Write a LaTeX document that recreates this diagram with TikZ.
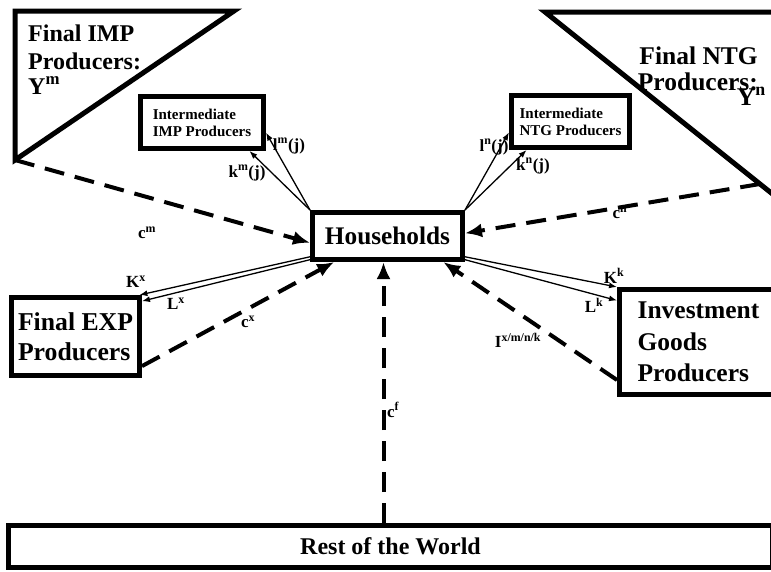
\documentclass[tikz,border=0pt]{standalone}
\usepackage{fontspec}
\setmainfont{Liberation Serif}
\usepackage{tikz}
\usetikzlibrary{arrows.meta,positioning}

\begin{document}
\begin{tikzpicture}[
    x=1pt, y=-1pt,
    every node/.style={inner sep=0pt},
    bigbox/.style={rectangle, draw, line width=5pt, align=left, font=\fontsize{25.5}{31.5}\selectfont\bfseries},
    interbox/.style={rectangle, draw, line width=5pt, align=left, minimum width=123pt, minimum height=52pt, font=\fontsize{15}{17}\selectfont\bfseries},
    tri/.style={line width=5pt},
    lab/.style={font=\fontsize{17}{17}\selectfont\bfseries},
    arrow/.style={line width=1.3pt, -{Latex[length=8pt,width=6pt]}},
    flow/.style={line width=4pt, dash pattern=on 20pt off 11pt, -{Latex[length=17pt,width=14pt]}}
]
\useasboundingbox (0,0) rectangle (771,571);
\clip (0,0) rectangle (771,571);

% Top left - final IMP producers
\draw[tri] (15,11) -- (234,11) -- (15,160) coordinate (imp_corner) -- cycle;
\node[anchor=base west, align=left, font=\fontsize{24}{28}\selectfont\bfseries] (imp_name) at (28,94) {Final IMP\\Producers:\\[-3pt]Y\textsuperscript{m}};
\node[interbox] (imp_inter) at (202,122.5) {Intermediate\\IMP Producers};

% Top right - final NTG producers
\draw[tri] (545,12) -- (785,12) -- (785,204) -- cycle;
\coordinate (ntg_corner) at (760,184);
\node[anchor=base east, align=right, font=\fontsize{25.5}{26}\selectfont\bfseries] (ntg_name) at (758,105) {Final NTG\\Producers:\\[-11pt]Y\textsuperscript{n}\hspace*{-8pt}};
\node[interbox, minimum width=118pt] (ntg_inter) at (570.5,121.5) {Intermediate\\NTG Producers};

% Middle - households and the other producers
\node[bigbox, minimum width=150pt, minimum height=47pt, font=\fontsize{25.3}{30}\selectfont\bfseries] (households) at (387.5,236) {Households};
\node[bigbox, minimum width=128pt, minimum height=78pt, font=\fontsize{25.7}{30}\selectfont\bfseries] (exp_final) at (75.5,336.5) {Final EXP\\Producers};
\node[bigbox, minimum width=158pt, minimum height=105pt] (invest) at (698.5,342) {Investment\\Goods\\Producers};

% Bottom
\node[bigbox, minimum width=764pt, minimum height=42pt, font=\fontsize{24}{24}\selectfont\bfseries] (rest_world) at (390.5,546.5) {Rest of the World};

% Factor arrows
\draw[arrow] (households.north west) -- (imp_inter.-9);
\draw[arrow] (households.north west) -- (imp_inter.-31);
\draw[arrow] (households.north east) -- (ntg_inter.190);
\draw[arrow] (households.north east) -- (ntg_inter.213);
\draw[arrow] (households.195) -- (exp_final.33);
\draw[arrow] (households.197) -- (exp_final.28);
\draw[arrow] (households.-15) -- (invest.north west);
\draw[arrow] (households.-17) -- (invest.153);

% Goods flows
\draw[flow] (imp_corner) -- (households.185);
\draw[flow] (ntg_corner) -- (households.2);
\draw[flow] (exp_final.-24) -- (households.206);
\draw[flow] ([xshift=-4pt]rest_world.north -| households.south) -- ([xshift=-4pt]households.south);
\draw[flow] (invest.205) -- (households.-25);

% Labels
\node[lab] (lab_lm) at (289,146) {l\textsuperscript{m}(j)};
\node[lab] (lab_km) at (247,173) {k\textsuperscript{m}(j)};
\node[lab] (lab_ln) at (494,147) {l\textsuperscript{n}(j)};
\node[lab] (lab_kn) at (533,166) {k\textsuperscript{n}(j)};
\node[lab] (lab_kx) at (136,282) {K\textsuperscript{x}};
\node[lab] (lab_lx) at (176,304) {L\textsuperscript{x}};
\node[lab] (lab_kk) at (614,276) {K\textsuperscript{k}};
\node[lab] (lab_lk) at (594,305) {L\textsuperscript{k}};
\node[lab] (lab_cm) at (147,233) {c\textsuperscript{m}};
\node[lab] (lab_cn) at (620,213) {c\textsuperscript{n}};
\node[lab] (lab_cx) at (248,322) {c\textsuperscript{x}};
\node[lab] (lab_cf) at (393,410) {c\textsuperscript{f}};
\node[lab] (lab_inv) at (518,340) {I\textsuperscript{x/m/n/k}};

\end{tikzpicture}
\end{document}
